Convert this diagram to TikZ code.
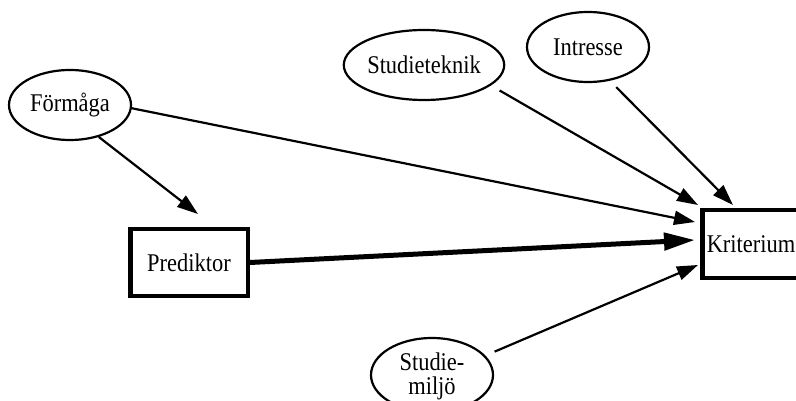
\documentclass[tikz,border=0pt]{standalone}
\usepackage{fontspec}
\setmainfont[FakeStretch=0.88]{Liberation Serif}
\usetikzlibrary{shapes.geometric,arrows.meta,calc}
\begin{document}
\begin{tikzpicture}[x=1pt,y=-1pt,
  lbl/.style={font=\fontsize{25.5}{24}\selectfont},
  oval/.style={draw,line width=2.2pt,ellipse,inner sep=0pt,minimum width=122pt,minimum height=70pt,lbl},
  boxnode/.style={draw,line width=4.5pt,inner sep=0pt,lbl},
  arr/.style={line width=2.2pt,-{Triangle[length=21pt,width=14pt]}},
  thickarr/.style={line width=5pt,-{Triangle[length=31pt,width=17pt]}}]
\fill[white] (0,0) rectangle (796,401);
\useasboundingbox (0,0) rectangle (796,401);
\node[oval] (F) at (70,105) {Förmåga};
\node[oval,minimum width=138pt] (S) at (424,65) {Studieteknik};
\node[oval] (I) at (588,47) {Intresse};
\node[oval,minimum height=74pt] (M) at (432,375) {};
\node[lbl,align=center,yshift=-1pt] (MT) at (M.center) {Studie-\\miljö};
\node[boxnode,minimum width=117.5pt,minimum height=66.5pt] (P) at (189,262.5) {Prediktor};
\node[boxnode,minimum width=97.5pt,minimum height=67.5pt] (K) at (751,244) {Kriterium};
\draw[arr] (F.-48) -- ([xshift=9pt,yshift=13pt]P.north);
\draw[arr] (F.-3) -- ([xshift=-5pt,yshift=22pt]K.west);
\draw[thickarr] (P.east) -- ([xshift=-5pt,yshift=4pt]K.west);
\draw[arr,shorten <=10pt] (S.-17) -- ([xshift=-2pt,yshift=3pt]K.north west);
\draw[arr,shorten <=9pt] (I.-57) -- ([xshift=33pt,yshift=3pt]K.north west);
\draw[arr,shorten <=10pt] (M.20) -- ([xshift=-2pt,yshift=-21pt]K.west);
\end{tikzpicture}
\end{document}
